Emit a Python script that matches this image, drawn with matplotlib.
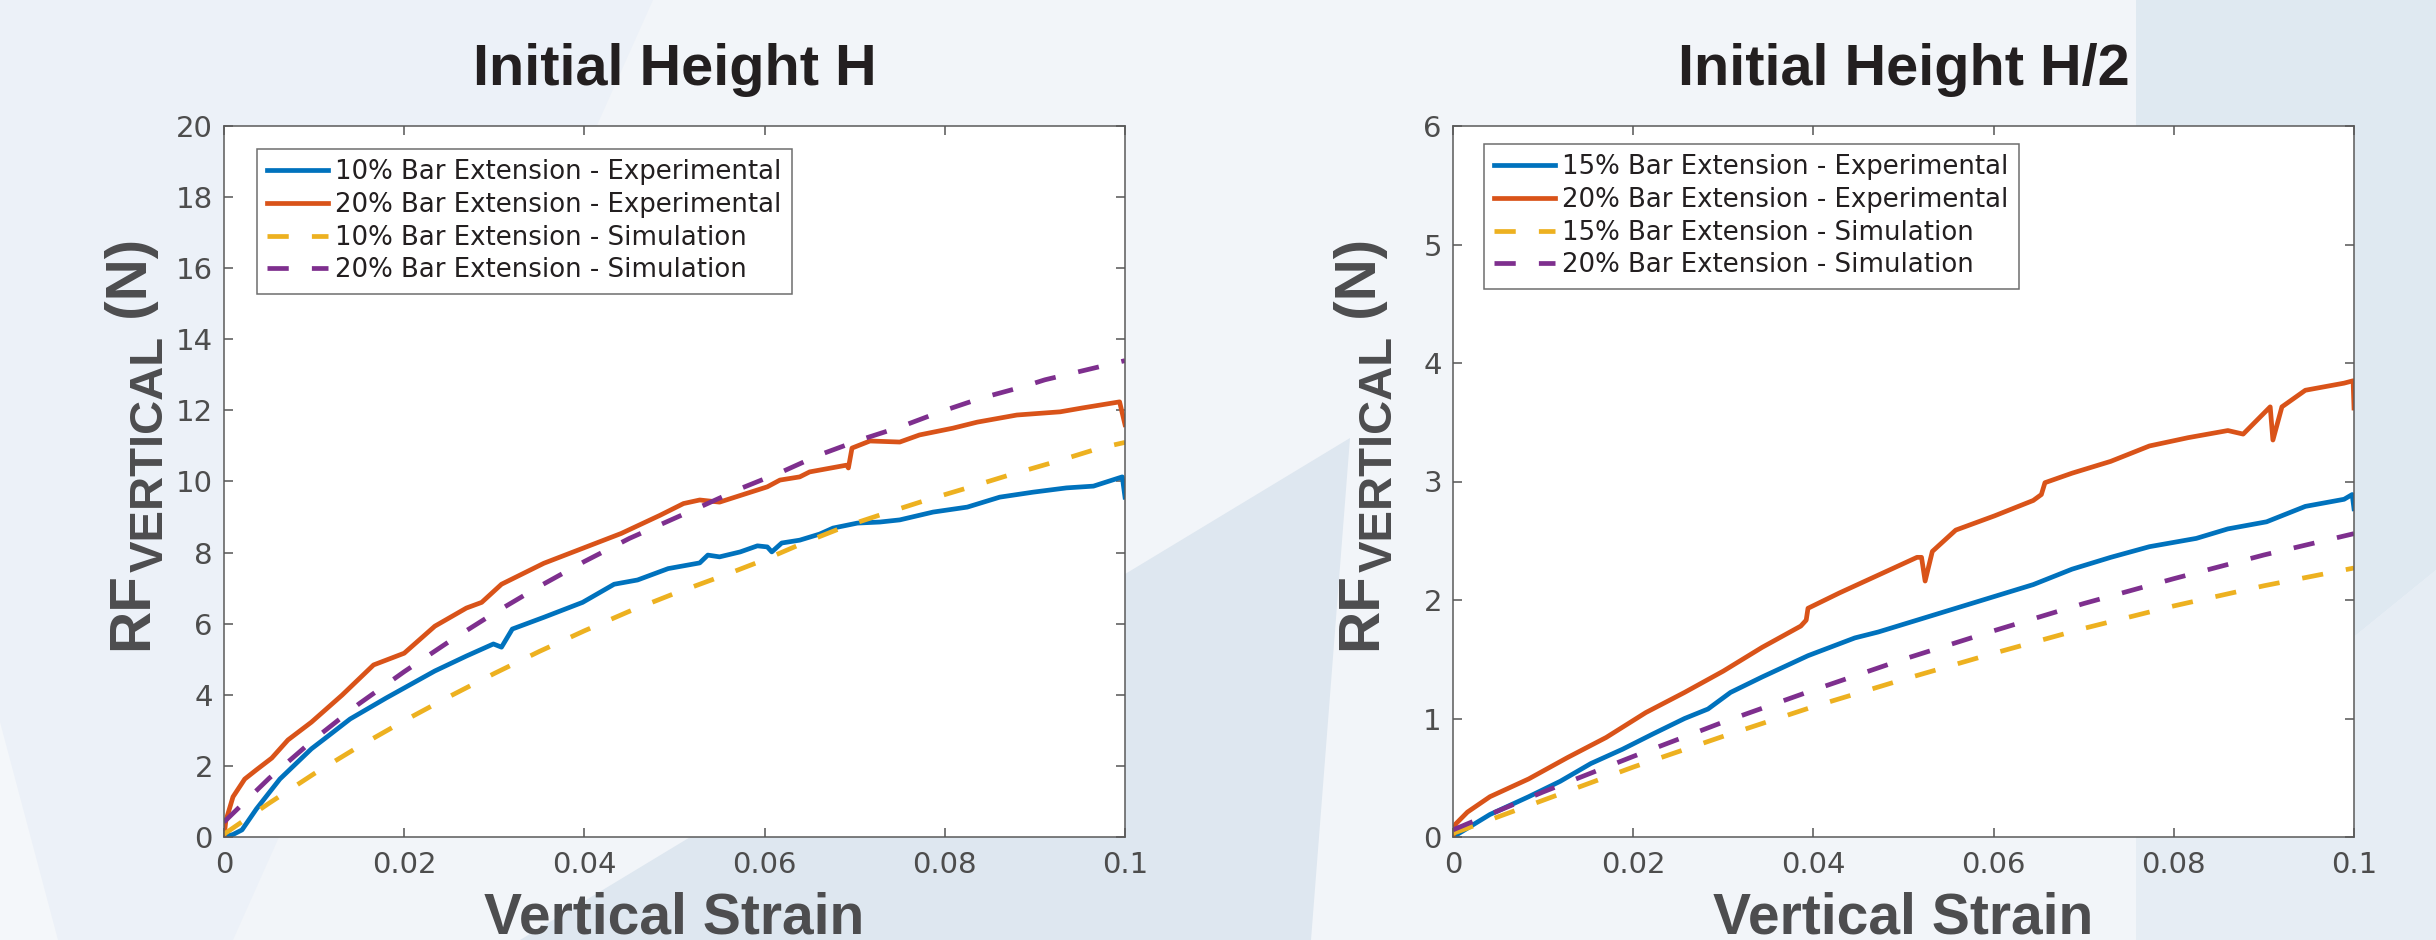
import matplotlib
matplotlib.use("Agg")
import matplotlib.pyplot as plt
from matplotlib.patches import Polygon

plt.rcParams['font.family'] = 'DejaVu Sans'

# ---------------- data ----------------
xticks = [0, 0.02, 0.04, 0.06, 0.08, 0.1]
xtick_labels = ["0", "0.02", "0.04", "0.06", "0.08", "0.1"]

titles = ["Initial Height H", "Initial Height H/2"]

# Left panel : initial height H
yticks_H = [0, 2, 4, 6, 8, 10, 12, 14, 16, 18, 20]
labels_H = ["10% Bar Extension - Experimental", "20% Bar Extension - Experimental",
            "10% Bar Extension - Simulation", "20% Bar Extension - Simulation"]

strain_exp10_H = [0, 0.001, 0.002, 0.0036, 0.0062, 0.0097, 0.0114, 0.014, 0.018, 0.0234,
                  0.0269, 0.0299, 0.0308, 0.032, 0.0355, 0.0398, 0.0433, 0.0459, 0.0493, 0.0528,
                  0.0537, 0.055, 0.0573, 0.0592, 0.0603, 0.0608, 0.0619, 0.0639, 0.0661, 0.0676,
                  0.0703, 0.0728, 0.075, 0.0787, 0.0825, 0.0861, 0.0898, 0.0935, 0.0965, 0.0997, 0.1]
force_exp10_H = [0, 0.07, 0.2, 0.79, 1.63, 2.48, 2.81, 3.32, 3.91, 4.67,
                 5.09, 5.43, 5.34, 5.85, 6.18, 6.6, 7.11, 7.23, 7.55, 7.71,
                 7.93, 7.88, 8.02, 8.19, 8.16, 8.02, 8.27, 8.35, 8.52, 8.69,
                 8.83, 8.86, 8.92, 9.14, 9.28, 9.56, 9.7, 9.82, 9.87, 10.13, 9.56]

strain_exp20_H = [0, 0.0002, 0.001, 0.0023, 0.0036, 0.0053, 0.0071, 0.0097, 0.0131, 0.0166,
                  0.02, 0.0234, 0.0269, 0.0286, 0.0308, 0.0355, 0.0398, 0.0441, 0.0484, 0.051,
                  0.0528, 0.055, 0.0603, 0.0617, 0.0639, 0.065, 0.0691, 0.0693, 0.0697, 0.0717,
                  0.075, 0.0772, 0.0809, 0.0836, 0.088, 0.0928, 0.0953, 0.0994, 0.1]
force_exp20_H = [0, 0.45, 1.13, 1.63, 1.89, 2.22, 2.73, 3.23, 3.99, 4.84,
                 5.17, 5.93, 6.44, 6.6, 7.11, 7.7, 8.12, 8.54, 9.05, 9.38,
                 9.48, 9.42, 9.85, 10.04, 10.13, 10.27, 10.46, 10.38, 10.94, 11.14,
                 11.11, 11.31, 11.5, 11.67, 11.87, 11.96, 12.07, 12.24, 11.6]

strain_sim10_H = [0, 0.005, 0.01, 0.015, 0.02, 0.025, 0.03, 0.035, 0.04, 0.045, 0.05,
                  0.0556, 0.06, 0.0645, 0.069, 0.0733, 0.078, 0.0825, 0.087, 0.0926, 0.0972, 0.1]
force_sim10_H = [0.08, 0.95, 1.78, 2.55, 3.27, 3.95, 4.6, 5.22, 5.8, 6.35, 6.85,
                 7.37, 7.8, 8.29, 8.74, 9.1, 9.48, 9.82, 10.17, 10.58, 10.94, 11.1]

strain_sim20_H = [0, 0.005, 0.01, 0.015, 0.02, 0.025, 0.03, 0.035, 0.04, 0.045, 0.0528,
                  0.0575, 0.0619, 0.0661, 0.0706, 0.075, 0.0795, 0.0841, 0.0886, 0.0911, 0.1]
force_sim20_H = [0.42, 1.65, 2.75, 3.75, 4.65, 5.5, 6.3, 7.05, 7.75, 8.4, 9.28,
                 9.82, 10.27, 10.75, 11.17, 11.53, 11.96, 12.35, 12.66, 12.86, 13.4]

# Right panel : initial height H/2
yticks_H2 = [0, 1, 2, 3, 4, 5, 6]
labels_H2 = ["15% Bar Extension - Experimental", "20% Bar Extension - Experimental",
             "15% Bar Extension - Simulation", "20% Bar Extension - Simulation"]

strain_exp15_H2 = [0, 0.0041, 0.0084, 0.0119, 0.0153, 0.0188, 0.0222, 0.0257, 0.0283, 0.0308,
                   0.0343, 0.0394, 0.0446, 0.0472, 0.0515, 0.0558, 0.0601, 0.0644, 0.0687, 0.073,
                   0.0773, 0.0825, 0.086, 0.0903, 0.0946, 0.0989, 0.0998, 0.1]
force_exp15_H2 = [0, 0.19, 0.34, 0.47, 0.62, 0.74, 0.87, 1.0, 1.08, 1.22,
                  1.35, 1.53, 1.68, 1.73, 1.83, 1.93, 2.03, 2.13, 2.26, 2.36,
                  2.45, 2.52, 2.6, 2.66, 2.79, 2.85, 2.89, 2.77]

strain_exp20_H2 = [0, 0.0003, 0.0016, 0.0041, 0.0084, 0.0127, 0.017, 0.0214, 0.0257, 0.03,
                   0.0343, 0.0386, 0.0392, 0.0394, 0.0429, 0.0472, 0.0515, 0.052, 0.0524, 0.0532,
                   0.0558, 0.0601, 0.0644, 0.0653, 0.0657, 0.0687, 0.073, 0.0773, 0.0816, 0.086,
                   0.0877, 0.0907, 0.091, 0.092, 0.0946, 0.0989, 0.0999, 0.1]
force_exp20_H2 = [0, 0.11, 0.21, 0.34, 0.49, 0.67, 0.84, 1.05, 1.22, 1.4,
                  1.6, 1.78, 1.83, 1.93, 2.06, 2.21, 2.36, 2.36, 2.16, 2.41,
                  2.59, 2.71, 2.84, 2.89, 2.99, 3.07, 3.17, 3.3, 3.37, 3.43,
                  3.4, 3.63, 3.35, 3.63, 3.77, 3.83, 3.85, 3.62]

strain_sim_H2 = [0, 0.01, 0.02, 0.03, 0.04, 0.05, 0.06, 0.07, 0.08, 0.09, 0.1]
force_sim15_H2 = [0.03, 0.31, 0.59, 0.85, 1.1, 1.33, 1.55, 1.76, 1.95, 2.12, 2.27]
force_sim20_H2 = [0.06, 0.38, 0.68, 0.97, 1.24, 1.5, 1.74, 1.97, 2.18, 2.38, 2.56]

# ---------------- styling ----------------
W, H = 2436, 940
colors = ["#0072BD", "#D95319", "#EDB120", "#7E2F8E"]
lw = 3.4
dash = (0, (4.5, 4.9))
label_gray = "#4d4d4f"
title_col = "#231f20"

fig = plt.figure(figsize=(W / 100, H / 100), dpi=100)
fig.patch.set_facecolor("#ecf1f8")

# background slide shapes (pixel corners, y measured from the top)
bg_shapes = [
    ("#f2f5f9", [(653, 0), (2136, 0), (2136, 940), (233, 940)]),
    ("#dee7f0", [(520, 940), (1350, 438), (1311, 940)]),
    ("#dfe9f1", [(2136, 0), (2436, 0), (2436, 570), (2136, 814)]),
    ("#e6edf4", [(2136, 814), (2436, 570), (2436, 940), (2136, 940)]),
    ("#f4f7fa", [(0, 722), (58, 940), (0, 940)]),
]
for col, pts in bg_shapes:
    fig.patches.append(Polygon([(x / W, 1 - y / H) for x, y in pts], closed=True,
                               transform=fig.transFigure, facecolor=col,
                               edgecolor="none", zorder=-10))

panels = [
    dict(left=224, title=titles[0], yticks=yticks_H, labels=labels_H,
         series=[(strain_exp10_H, force_exp10_H), (strain_exp20_H, force_exp20_H),
                 (strain_sim10_H, force_sim10_H), (strain_sim20_H, force_sim20_H)],
         anchor=(0.0366, 0.968)),
    dict(left=1453, title=titles[1], yticks=yticks_H2, labels=labels_H2,
         series=[(strain_exp15_H2, force_exp15_H2), (strain_exp20_H2, force_exp20_H2),
                 (strain_sim_H2, force_sim15_H2), (strain_sim_H2, force_sim20_H2)],
         anchor=(0.0344, 0.975)),
]

ax_w, ax_top, ax_bot = 901, 126, 837
renderer = fig.canvas.get_renderer()

for p in panels:
    ax = fig.add_axes([p["left"] / W, 1 - ax_bot / H, ax_w / W, (ax_bot - ax_top) / H])
    ax.set_facecolor("white")
    for i, (s, f) in enumerate(p["series"]):
        ls = "-" if i < 2 else dash
        ax.plot(s, f, color=colors[i], lw=lw, linestyle=ls, label=p["labels"][i],
                dash_capstyle="butt", solid_joinstyle="round")

    ax.set_xlim(0, 0.1)
    ax.set_ylim(p["yticks"][0], p["yticks"][-1])
    ax.set_xticks(xticks)
    ax.set_xticklabels(xtick_labels)
    ax.set_yticks(p["yticks"])
    ax.set_yticklabels([str(v) for v in p["yticks"]])
    ax.tick_params(direction="in", length=6.5, width=1.1, color="#555555",
                   labelsize=21, labelcolor="#4d4d4d", top=True, right=True)
    ax.tick_params(axis="x", pad=10)
    ax.tick_params(axis="y", pad=8)
    for sp in ax.spines.values():
        sp.set_color("#5a5a5a")
        sp.set_linewidth(1.1)

    leg = ax.legend(loc="upper left", bbox_to_anchor=p["anchor"], borderaxespad=0,
                    fontsize=18.7, fancybox=False, framealpha=1, edgecolor="#6e6e6e",
                    handlelength=2.35, handletextpad=0.25, labelspacing=0.26, borderpad=0.4)
    leg.get_frame().set_linewidth(1.1)
    for t in leg.get_texts():
        t.set_color(title_col)

    cx = (p["left"] + ax_w / 2) / W
    fig.text(cx, 1 - 85 / H, p["title"], ha="center", va="baseline", fontsize=41.5,
             fontweight="bold", family="Liberation Sans", color=title_col)
    fig.text(cx, 6 / H, "Vertical Strain", ha="center", va="baseline", fontsize=41,
             fontweight="bold", family="Liberation Sans", color=label_gray)

    # y label: RF with VERTICAL as a subscript, then (N)
    xb = p["left"] - 77
    kw = dict(rotation=90, rotation_mode="anchor", ha="left", va="baseline",
              fontweight="bold", family="Liberation Sans", color=label_gray)
    t1 = fig.text(xb / W, (H - 650) / H, "RF", fontsize=42, **kw)
    y_end = t1.get_window_extent(renderer).y1
    t2 = fig.text((xb + 16) / W, y_end / H, "VERTICAL", fontsize=34, **kw)
    y_end = t2.get_window_extent(renderer).y1
    fig.text(xb / W, y_end / H, " (N)", fontsize=42, **kw)

fig.savefig("out.png", dpi=100, facecolor=fig.get_facecolor())
